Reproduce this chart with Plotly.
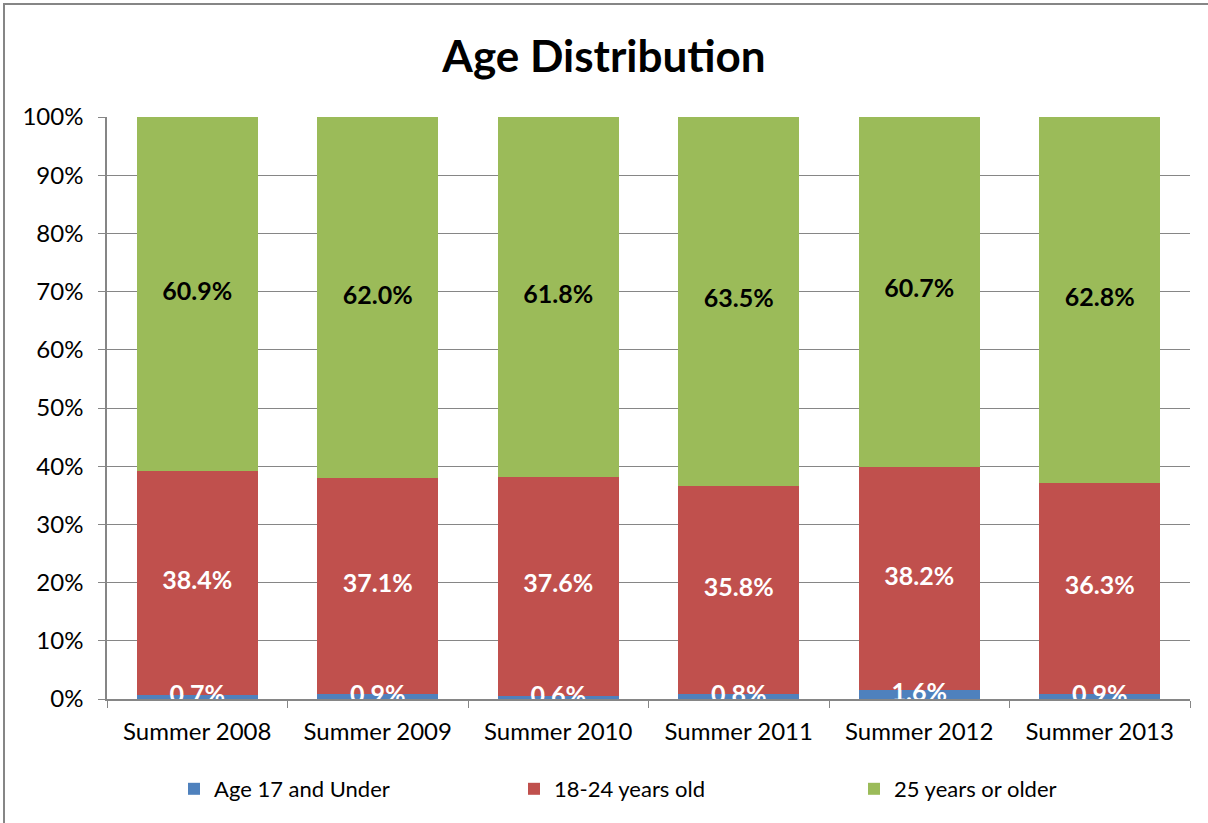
import plotly.graph_objects as go

categories = ["Summer 2008", "Summer 2009", "Summer 2010", "Summer 2011", "Summer 2012", "Summer 2013"]
under17 = [0.7, 0.9, 0.6, 0.8, 1.6, 0.9]
age18_24 = [38.4, 37.1, 37.6, 35.8, 38.2, 36.3]
age25plus = [60.9, 62.0, 61.8, 63.5, 60.7, 62.8]
series_names = ["Age 17 and Under", "18-24 years old", "25 years or older"]
colors = ["#4F81BD", "#C0504D", "#9BBB59"]
label_colors = ["white", "white", "black"]
y_ticks = list(range(0, 101, 10))

FONT = "Lato, Carlito, Calibri, sans-serif"

fig = go.Figure()
series = [under17, age18_24, age25plus]
for name, vals, col in zip(series_names, series, colors):
    fig.add_trace(go.Bar(x=categories, y=vals, name=name, marker=dict(color=col, line=dict(width=0)),
                         width=0.67, hoverinfo="skip"))

# labels at segment centers
base = [0.0] * len(categories)
for vals, lc in zip(series, label_colors):
    mids = [b + v / 2 for b, v in zip(base, vals)]
    fig.add_trace(go.Scatter(x=categories, y=mids, mode="text",
                             text=[f"{v:.1f}%" for v in vals],
                             textfont=dict(family=FONT, size=25, color=lc, weight="bold"),
                             cliponaxis=True, showlegend=False, hoverinfo="skip"))
    base = [b + v for b, v in zip(base, vals)]

W, H = 1208, 823
L, R, T, B = 107, 18, 117, 124
pw, ph = W - L - R, H - T - B

fig.update_layout(
    width=W, height=H, barmode="stack",
    margin=dict(l=L, r=R, t=T, b=B, autoexpand=False),
    paper_bgcolor="white", plot_bgcolor="white",
    font=dict(family=FONT, size=24, color="black"),
    title=dict(text="<b>Age Distribution</b>", x=0.5, xanchor="center",
               y=1 - 57 / H, yanchor="middle", font=dict(family=FONT, size=44, color="black")),
    showlegend=True,
    legend=dict(orientation="h", x=(174 - L) / pw, xanchor="left", y=-(789 - (H - B)) / ph,
                yanchor="middle", entrywidth=295, font=dict(family=FONT, size=22, color="black"),
                itemclick=False, itemdoubleclick=False, traceorder="normal"),
    xaxis=dict(showline=True, linecolor="#868686", linewidth=1.5, ticks="outside", tickson="boundaries",
               ticklen=7, tickcolor="#868686", tickfont=dict(family=FONT, size=24), showgrid=False,
               ticklabelstandoff=10),
    yaxis=dict(range=[0, 100], tickvals=y_ticks, ticktext=[f"{t}%" for t in y_ticks],
               showline=True, linecolor="#868686", linewidth=1.5, ticks="outside", ticklen=7,
               tickcolor="#868686", showgrid=True, gridcolor="#868686", gridwidth=1,
               tickfont=dict(family=FONT, size=24), zeroline=False, ticklabelstandoff=10),
    shapes=[dict(type="rect", xref="paper", yref="paper",
                 x0=(4 - L) / pw, x1=(W + 20 - L) / pw,
                 y0=-(H + 20 - (H - B)) / ph, y1=((H - B) - 4) / ph,
                 line=dict(color="#868686", width=2), fillcolor="rgba(0,0,0,0)", layer="below")],
)

fig.write_html("out.html", config={"displayModeBar": False},
               post_script="document.body.style.margin='0';")
